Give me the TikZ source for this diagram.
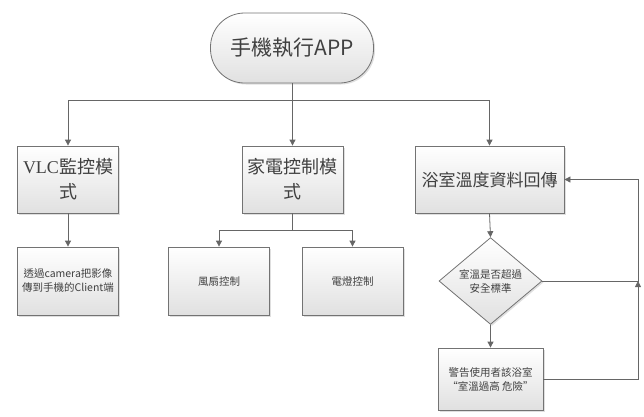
\documentclass[tikz,border=0pt]{standalone}
\usepackage{fontspec}
\newfontfamily\cjk{Noto Sans CJK TC}
\newfontfamily\lserif{Liberation Serif}
\usetikzlibrary{arrows.meta,shadows,shapes.geometric}
\tikzset{
  boxbase/.style={draw=black!55, line width=0.8pt, top color=white, bottom color=black!12,
    drop shadow={opacity=0.25, shadow xshift=1.5pt, shadow yshift=-1.5pt},
    text=black!75, align=center, inner sep=2pt},
  bigbox/.style={boxbase, rectangle, minimum width=101pt, minimum height=67pt},
  smallbox/.style={boxbase, rectangle, minimum width=101pt, minimum height=68pt, font=\cjk\fontsize{10.5}{14}\selectfont},
  conn/.style={draw=black!60, line width=0.8pt},
  arr/.style={conn, -{Triangle[length=6pt,width=6pt]}},
}
\begin{document}
\begin{tikzpicture}[x=1pt,y=-1pt]
\useasboundingbox (0,0) rectangle (644,416);
% nodes
\node[boxbase, rectangle, rounded corners=34pt, minimum width=163pt, minimum height=70pt,
  font=\cjk\fontsize{21}{24}\selectfont] (top) at (292,48) {手機執行APP};
\node[bigbox, font=\fontsize{18}{25}\selectfont, text width=95pt] (vlc) at (68,179.5) {\lserif VLC\cjk 監控模\\式};
\node[bigbox, font=\cjk\fontsize{18}{25}\selectfont, text width=95pt] (home) at (292.5,179.5) {家電控制模\\式};
\node[bigbox, minimum width=149pt, font=\cjk\fontsize{17}{20}\selectfont] (bath) at (489.5,179.5) {浴室溫度資料回傳};
\node[smallbox] (cam) at (68,281) {透過camera把影像\\傳到手機的Client端};
\node[smallbox] (fan) at (219,281) {風扇控制};
\node[smallbox] (light) at (352.5,281) {電燈控制};
\node[boxbase, diamond, minimum width=103pt, minimum height=66pt, inner sep=0pt,
  font=\cjk\fontsize{10.5}{14}\selectfont] (dia) at (490.5,281) {室溫是否超過\\安全標準};
\node[smallbox, minimum width=105pt, minimum height=62pt] (warn) at (490.5,379) {警告使用者該浴室\\“室溫過高 危險”};
% junction coordinates
\coordinate (j0) at (292,100);
\coordinate (jL) at (68,100);
\coordinate (jM) at (292.5,100);
\coordinate (jR) at (489.5,100);
\coordinate (h0) at (292.5,230);
\coordinate (hL) at (219,230);
\coordinate (hR) at (352.5,230);
\coordinate (r0) at (638,379);
\coordinate (r1) at (638,281);
\coordinate (r2) at (638,179.5);
% connectors
\draw[conn] (top.south) -- (j0);
\draw[conn] (jL) -- (jR);
\draw[arr] (jL) -- (vlc.north);
\draw[arr] (jM) -- (home.north);
\draw[arr] (jR) -- (bath.north);
\draw[arr] (vlc.south) -- (cam.north);
\draw[conn] (home.south) -- (h0);
\draw[conn] (hL) -- (hR);
\draw[arr] (hL) -- (fan.north);
\draw[arr] (hR) -- (light.north);
\draw[arr] (bath.south) -- (dia.north);
\draw[arr] (dia.south) -- (warn.north);
\draw[arr] (warn.east) -- (r0) -- (r1);
\draw[arr] (dia.east) -- (r1) -- (r2) -- (bath.east);
\end{tikzpicture}
\end{document}
